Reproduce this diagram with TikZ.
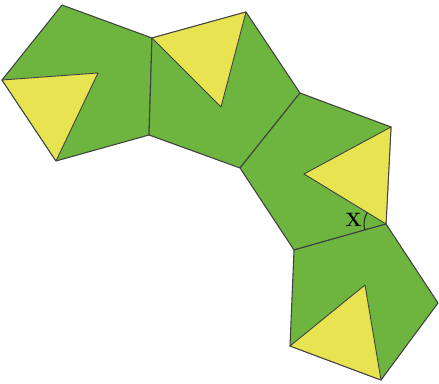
\documentclass[tikz,border=0pt]{standalone}
\usepackage{tikz}
\usetikzlibrary{
    angles,
    quotes
}
\usepackage{xcolor}
\definecolor{leafgreen}{RGB}{109,181,63}
\definecolor{lemon}{RGB}{232,227,80}
\tikzstyle{pentaface} = [
    fill=leafgreen,
    draw=black!75,
    line width=0.6pt,
    line join=round
]
\tikzstyle{triface} = [
    fill=lemon,
    draw=black!75,
    line width=0.5pt,
    line join=round
]
\tikzstyle{anglemark} = [
    draw=black!85,
    line width=0.6pt,
    angle radius=0.44cm
]

\begin{document}
\begin{tikzpicture}[x=0.02cm, y=0.02cm]
        \useasboundingbox (0,0) rectangle (439,384);

        % vertices of the net
        \coordinate (a) at (62,379);
        \coordinate (b) at (2,304);
        \coordinate (c) at (56,223);
        \coordinate (d) at (149,249);
        \coordinate (e) at (152,346);
        \coordinate (f) at (246,372);
        \coordinate (g) at (300,291);
        \coordinate (h) at (240,216);
        \coordinate (i) at (391,257);
        \coordinate (j) at (386,160);
        \coordinate (k) at (294,134);
        \coordinate (l) at (438,81);
        \coordinate (m) at (381,4);
        \coordinate (n) at (290,38);

        % inner tips of the triangles
        \coordinate (tipA) at (98,311);
        \coordinate (tipB) at (221,277);
        \coordinate (tipC) at (304,210);
        \coordinate (tipD) at (365,99);

        % pentagons
        \draw[pentaface] (a) -- (b) -- (c) -- (d) -- (e) -- cycle;
        \draw[pentaface] (e) -- (f) -- (g) -- (h) -- (d) -- cycle;
        \draw[pentaface] (h) -- (g) -- (i) -- (j) -- (k) -- cycle;
        \draw[pentaface] (k) -- (j) -- (l) -- (m) -- (n) -- cycle;

        % triangles
        \draw[triface] (b) -- (tipA) -- (c) -- cycle;
        \draw[triface] (e) -- (f) -- (tipB) -- cycle;
        \draw[triface] (i) -- (j) -- (tipC) -- cycle;
        \draw[triface] (n) -- (tipD) -- (m) -- cycle;

        % angle x
        \pic[anglemark] {angle = tipC--j--k};
        \node[font=\fontsize{11}{13}\selectfont\bfseries] (xlabel) at (353.5,164.5) {X};
    \end{tikzpicture}
\end{document}
